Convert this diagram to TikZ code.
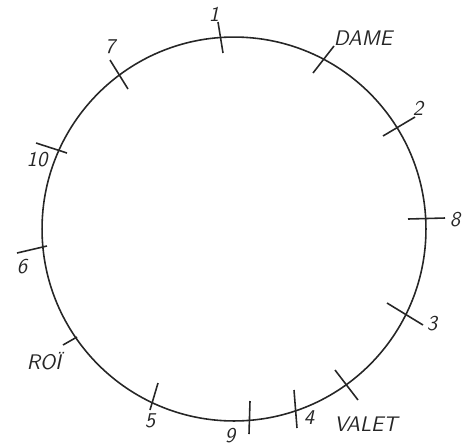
\documentclass[tikz,border=0pt]{standalone}
\usepackage{tikz}

\tikzset{
  ring/.style={line width=0.9pt, black!85},
  tickmark/.style={line width=0.9pt, black!85},
  lbl/.style={font=\sffamily\slshape\large, black!85, inner sep=0pt}
}

\begin{document}
\begin{tikzpicture}[x=0.02cm, y=-0.02cm]
\useasboundingbox (0,0) rectangle (466,447);
\coordinate (c) at (234,229);
\draw[ring] (c) circle (3.84cm);
% marks across the ring
\foreach \p/\q in {{218,22}/{223,53}, {313,73}/{334,46}, {110,60}/{128,89},
  {383,136}/{415,117}, {408,219}/{445,218}, {387,303}/{423,325},
  {335,370}/{358,400}, {294,390}/{297,428}, {250,401}/{249,434},
  {158,383}/{150,410}, {77,337}/{63,345}, {17,253}/{47,246}, {36,143}/{67,153}}
  \draw[tickmark] (\p) -- (\q);
% labels
\foreach \n/\pos/\t in {one/{214,14}/1, dame/{363,38}/DAME, seven/{110,47}/7,
  two/{418,108}/2, eight/{455,220}/8, three/{432,324}/3, four/{309,418}/4,
  valet/{366,424}/VALET, nine/{230,436}/9, five/{150,421}/5,
  roi/{44,361}/{RO\"I}, six/{22,267}/6, ten/{37,160}/10}
  \node[lbl] (\n) at (\pos) {\t};
\end{tikzpicture}
\end{document}
